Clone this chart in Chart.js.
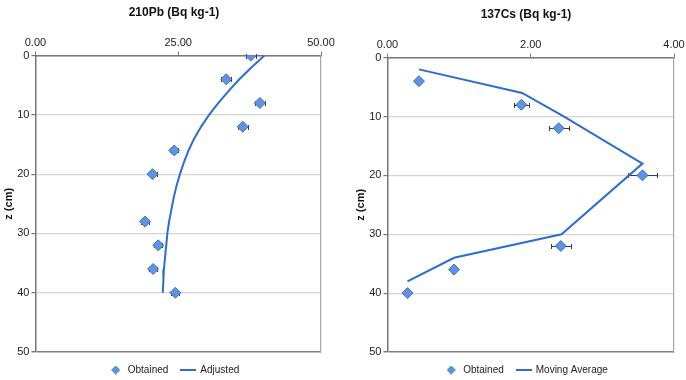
<!DOCTYPE html>
<html>
<head>
<meta charset="utf-8">
<script src="https://cdn.jsdelivr.net/npm/chart.js@4.4.1/dist/chart.umd.min.js"></script>
<style>
  html, body { margin: 0; padding: 0; background: #fff; overflow: hidden; }
  #wrap { position: relative; width: 686px; height: 380px; overflow: hidden; }
  .panel { position: absolute; top: 0; height: 385px; }
  #panel-pb { left: 0; width: 346px; }
  #panel-cs { left: 343px; width: 355px; }
</style>
</head>
<body>
<div id="wrap">
  <div class="panel" id="panel-pb"><canvas id="pbChart"></canvas></div>
  <div class="panel" id="panel-cs"><canvas id="csChart"></canvas></div>
</div>
<script>
// 210Pb profile
const pbDepth = [0, 4, 8, 12, 16, 20, 28, 32, 36, 40];
const pbObtained = [37.7, 33.4, 39.3, 36.3, 24.3, 20.5, 19.2, 21.5, 20.6, 24.5];
const pbError = [0.9, 0.9, 0.9, 0.9, 0.7, 0.7, 0.7, 0.7, 0.7, 0.7];
const pbFitDepth = [0, 2, 4, 6, 8, 10, 12, 14, 16, 18, 20, 22, 24, 26, 28, 30, 32, 34, 36, 38, 40];
const pbAdjusted = [40.1, 37.8, 35.7, 33.8, 32.0, 30.4, 29.0, 27.8, 26.8, 26.0, 25.3, 24.7, 24.2, 23.8, 23.4, 23.1, 22.9, 22.7, 22.5, 22.4, 22.3];

// 137Cs profile
const csDepth = [4, 8, 12, 20, 32, 36, 40];
const csObtained = [0.44, 1.87, 2.39, 3.56, 2.42, 0.93, 0.28];
const csError = [0.03, 0.1, 0.14, 0.2, 0.14, 0.03, 0.02];
const csAvgDepth = [2, 6, 10, 18, 30, 34, 38];
const csMovingAvg = [0.44, 1.88, 2.46, 3.56, 2.43, 0.93, 0.28];

const depthTicks = [0, 10, 20, 30, 40, 50];

const MARKER_FILL = "#5e94e2";
const MARKER_EDGE = "#3d6fc0";
const LINE_COLOR = "#2c6ed0";

// small icons for the legend
function diamondIcon() {
  const c = document.createElement("canvas");
  c.width = 9;
  c.height = 9;
  const g = c.getContext("2d");
  g.beginPath();
  g.moveTo(4.5, 0.5);
  g.lineTo(8.5, 4.5);
  g.lineTo(4.5, 8.5);
  g.lineTo(0.5, 4.5);
  g.closePath();
  g.fillStyle = MARKER_FILL;
  g.fill();
  g.strokeStyle = MARKER_EDGE;
  g.stroke();
  return c;
}

function lineIcon() {
  const c = document.createElement("canvas");
  c.width = 16;
  c.height = 4;
  const g = c.getContext("2d");
  g.fillStyle = LINE_COLOR;
  g.fillRect(0, 1, 16, 2);
  return c;
}

const legendIcons = [diamondIcon(), lineIcon()];

// horizontal error bars for the measured points
const errorBars = {
  id: "errorBars",
  beforeDatasetsDraw(chart, args, opts) {
    const errs = opts.values;
    if (!errs) return;
    const meta = chart.getDatasetMeta(0);
    const xs = chart.scales.x;
    const ctx = chart.ctx;
    ctx.save();
    ctx.strokeStyle = "#3a3a3a";
    ctx.lineWidth = 1;
    meta.data.forEach((pt, i) => {
      const v = chart.data.datasets[0].data[i].x;
      const x1 = Math.round(xs.getPixelForValue(v - errs[i])) + 0.5;
      const x2 = Math.round(xs.getPixelForValue(v + errs[i])) + 0.5;
      const y = Math.round(pt.y) + 0.5;
      ctx.beginPath();
      ctx.moveTo(x1, y);
      ctx.lineTo(x2, y);
      ctx.moveTo(x1, y - 2.5);
      ctx.lineTo(x1, y + 2.5);
      ctx.moveTo(x2, y - 2.5);
      ctx.lineTo(x2, y + 2.5);
      ctx.stroke();
    });
    ctx.restore();
  },
};

function buildChart(id, cfg) {
  const ctx = document.getElementById(id).getContext("2d");
  return new Chart(ctx, {
    type: "scatter",
    data: {
      datasets: [
        {
          label: "Obtained",
          data: cfg.depth.map((z, i) => ({ x: cfg.obtained[i], y: z })),
          pointStyle: "rectRot",
          pointRadius: 5.5,
          pointBackgroundColor: MARKER_FILL,
          pointBorderColor: MARKER_EDGE,
          pointBorderWidth: 1,
          showLine: false,
          order: 2,
        },
        {
          label: cfg.lineLabel,
          data: cfg.lineDepth.map((z, i) => ({ x: cfg.lineValues[i], y: z })),
          showLine: true,
          borderColor: LINE_COLOR,
          borderWidth: 2,
          pointRadius: 0,
          tension: 0,
          order: 1,
        },
      ],
    },
    options: {
      responsive: true,
      maintainAspectRatio: false,
      animation: false,
      layout: { padding: cfg.padding },
      plugins: {
        title: {
          display: true,
          text: cfg.title,
          color: "#111",
          font: { family: "Liberation Sans", size: 12, weight: "bold" },
          padding: { top: 5, bottom: 15 },
        },
        legend: {
          position: "bottom",
          labels: {
            usePointStyle: true,
            pointStyleWidth: 14,
            boxHeight: 9,
            color: "#222",
            font: { family: "Liberation Sans", size: 10 },
            padding: 13,
            sort: (a, b) => a.datasetIndex - b.datasetIndex,
            generateLabels(chart) {
              const items = Chart.defaults.plugins.legend.labels.generateLabels(chart);
              items.forEach((it) => (it.pointStyle = legendIcons[it.datasetIndex]));
              return items;
            },
          },
        },
        tooltip: { enabled: false },
        errorBars: { values: cfg.errors },
      },
      scales: {
        x: {
          type: "linear",
          position: "top",
          min: 0,
          max: cfg.xMax,
          ticks: {
            stepSize: cfg.xStep,
            padding: 2,
            color: "#222",
            font: { family: "Liberation Sans", size: 11 },
            callback: (v) => v.toFixed(2),
          },
          grid: {
            drawOnChartArea: false,
            tickColor: "#777",
            tickLength: 4,
          },
          border: { color: "#777", width: 1.5 },
        },
        y: {
          type: "linear",
          reverse: true,
          min: 0,
          max: 50,
          afterBuildTicks: (scale) => {
            scale.ticks = depthTicks.map((v) => ({ value: v }));
          },
          ticks: {
            padding: 2,
            color: "#222",
            font: { family: "Liberation Sans", size: 11 },
          },
          grid: {
            color: (c) => (c.tick && c.tick.value === 50 ? "#808080" : "#d4d4d4"),
            lineWidth: (c) => (c.tick && c.tick.value === 50 ? 1.5 : 1.2),
            tickColor: "#777",
            tickLength: 4,
          },
          border: { color: "#777", width: 1.5 },
          title: {
            display: true,
            text: "z (cm)",
            color: "#111",
            font: { family: "Liberation Sans", size: 11, weight: "bold" },
            padding: 0,
          },
        },
        // plain right edge of the plot box
        yRight: {
          type: "linear",
          position: "right",
          display: true,
          reverse: true,
          min: 0,
          max: 50,
          ticks: { display: false },
          grid: { drawOnChartArea: false, drawTicks: false },
          border: { color: "#a6a6a6", width: 1.2 },
          afterFit: (scale) => {
            scale.width = cfg.rightGap;
          },
        },
      },
    },
    plugins: [errorBars],
  });
}

buildChart("pbChart", {
  title: "210Pb (Bq kg-1)",
  depth: pbDepth,
  obtained: pbObtained,
  errors: pbError,
  lineLabel: "Adjusted",
  lineDepth: pbFitDepth,
  lineValues: pbAdjusted,
  xMax: 50,
  xStep: 25,
  rightGap: 25,
  padding: { left: 2, right: 0, top: 0, bottom: 0 },
});

buildChart("csChart", {
  title: "137Cs (Bq kg-1)",
  depth: csDepth,
  obtained: csObtained,
  errors: csError,
  lineLabel: "Moving Average",
  lineDepth: csAvgDepth,
  lineValues: csMovingAvg,
  xMax: 4,
  xStep: 2,
  rightGap: 24,
  padding: { left: 11, right: 0, top: 2, bottom: 0 },
});
</script>
</body>
</html>
